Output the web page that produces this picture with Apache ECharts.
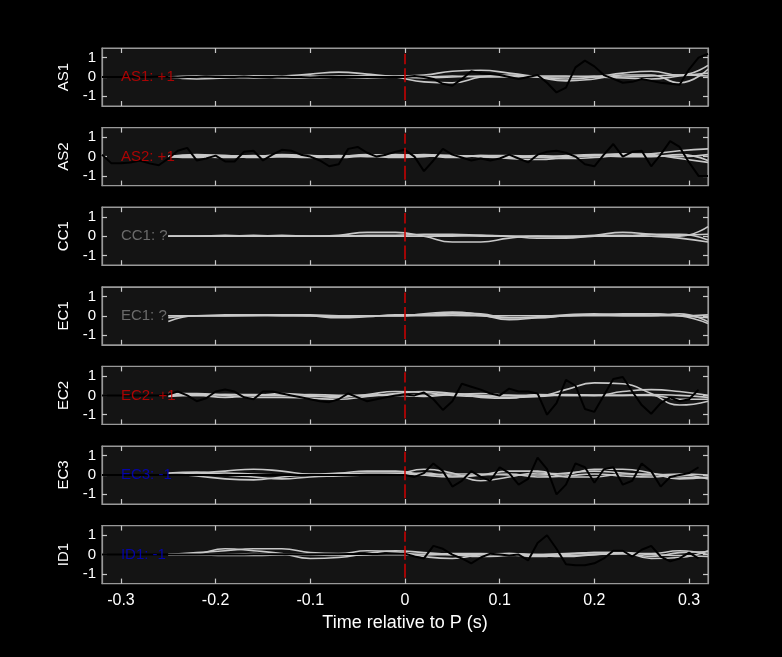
<!DOCTYPE html>
<html><head><meta charset="utf-8">
<script src="https://cdn.jsdelivr.net/npm/echarts@6/dist/echarts.min.js"></script>
<style>html,body{margin:0;background:#000}#c{width:782px;height:657px}</style>
</head><body><div id="c"></div>
<script>
const panelNames = ['AS1','AS2','CC1','EC1','EC2','EC3','ID1'];
const panelLabels = ['AS1: +1','AS2: +1','CC1: ?','EC1: ?','EC2: +1','EC3: -1','ID1: -1'];
const labelColors = ['#d00000','#d00000','#808080','#808080','#d00000','#0000d0','#0000d0'];
const xTicks = [-0.3,-0.2,-0.1,0,0.1,0.2,0.3];
const yTicks = [-1,0,1];
const refLineY = [-1.2, 1.2];
// black trace sample times: -0.32 .. 0.32 step 0.01
const blackT = [];
for (let i = -32; i <= 32; i++) blackT.push(i/100);
const as1Black = [0,0,0,0.02,0,0,0.03,0,-0.02,0,0,0.02,0,0,0,0.02,0,0,0,0.02,0,0,-0.02,0,0,0,0,0,0,0,0,0,
  0,0.05,0,-0.1,-0.35,-0.45,-0.1,0.3,0.2,0.15,0.1,0,-0.1,0,0.1,-0.3,-0.8,-0.55,0.5,0.85,0.55,0.1,-0.1,-0.3,-0.25,-0.1,-0.2,-0.3,-0.35,-0.4,0.4,1.0,1.2];
const as2Black = [0.1,-0.35,-0.35,-0.3,-0.2,-0.35,-0.45,-0.1,0.3,0.45,-0.2,-0.1,0.05,-0.25,-0.25,0.25,0.3,-0.2,0.1,0.35,0.3,0.1,0,-0.2,-0.5,-0.4,0.4,0.5,0.2,0,0.1,0.25,
  0.35,0,-0.75,-0.2,0.4,0.1,-0.05,-0.2,-0.1,-0.2,-0.1,0.1,-0.1,-0.3,0.1,0.25,0.3,0.2,0,-0.4,-0.5,0.1,0.65,0,0.25,0.3,-0.5,0.1,0.8,0.5,-0.3,-1.0,-1.0];
const ec2Black = [0,0,0,0,0,0,0,0.05,0.2,0,-0.3,-0.15,0.2,0.3,0.2,-0.1,-0.2,0.2,0.2,0.1,0,-0.1,-0.2,-0.3,-0.35,-0.2,0.1,-0.1,-0.3,-0.2,-0.1,0,
  0.05,0,0.15,-0.2,-0.75,-0.3,0.6,0.45,0.3,0.1,0,0.35,0.2,0.2,0.1,-1.0,-0.4,0.8,0.5,-0.7,-0.85,0,0.85,0.95,0.2,-0.5,-0.95,-0.4,-0.1,-0.3,-0.2,0.3,null];
const ec3Black = [0,0,0,0,0,0,0,0,0,0,0,0,0,0,0,0,0,0,0,0,0,0,0,0,0,0,0,0,0,0,0,0,
  0,-0.1,0.1,0.6,0.2,-0.6,-0.3,0.2,-0.1,-0.3,0.4,0.1,-0.5,-0.2,0.9,0.3,-1.0,-0.5,0.6,0.4,-0.4,0.3,0.4,-0.5,-0.3,0.6,0.2,-0.6,-0.1,0,0.1,0.4,null];
const id1Black = [0,0,0,0,0,0,0,0,0,0,0,0,0,0,0,0,0.02,0.02,0.02,0.02,0.02,0.02,0.02,0.02,0.02,0.02,0.03,0.03,0.03,0.03,0.04,0.04,
  0.05,-0.1,-0.2,0.45,0.3,0,-0.2,-0.45,-0.15,0.05,0,-0.05,0,-0.3,0.6,1.0,0.3,-0.5,-0.55,-0.55,-0.45,-0.2,0.2,0.2,-0.1,0.25,0.45,-0.1,-0.35,-0.2,0.1,-0.2,null];
const blackData = [as1Black, as2Black, null, null, ec2Black, ec3Black, id1Black];
// grey traces sample times: -0.25 .. 0.32 step 0.03
const greyT = [];
for (let i = 0; i < 20; i++) greyT.push(-0.25 + i*0.03);
const as1Grey = [
 [0,-0.1,-0.05,0,0.05,0.15,0.25,0.15,0,-0.25,-0.3,0,0.1,0,-0.1,0,0.2,0.3,0.1,0.6],
 [0,0,0.05,0.05,-0.05,-0.05,0,0.05,0.05,0.1,0.3,0.35,0.2,0,-0.2,-0.1,0.1,0.1,-0.3,0.4],
 [0,0.05,0,-0.05,0,0.05,0,-0.05,0,0,0.05,0,0,0.05,0.05,0,-0.05,-0.1,0.05,0.2],
 [0,0,0,0.05,0.05,0,0.05,0.05,0,-0.05,0,0.05,0.05,0,0,0.05,0,0.05,0.1,0.05]];
const as2Grey = [
 [0,0.1,0.05,0,0.1,0.05,-0.05,0.05,0.1,0.05,0,0.05,0,-0.05,0.05,0.1,0.1,0.15,0.3,0.4],
 [0,-0.05,0,0.05,0,-0.05,0,0.1,0.05,0.1,0.05,0,-0.1,-0.15,-0.05,0.05,0,0,0.1,-0.2],
 [0,0,-0.05,0,0.05,0,0.05,0,0,0.05,-0.05,0.05,0.05,0,-0.1,-0.05,0.05,0.05,0,0.1],
 [0,0.05,0.05,-0.05,0,0.05,0,0.05,-0.05,0,0.05,0,-0.05,0.05,0,0.05,0.15,0.1,-0.1,-0.3]];
const cc1Grey = [
 [0,0,0,0.05,0,0,0.05,0.2,0.2,0,-0.3,-0.3,-0.1,0,0,0.05,0.2,0.1,0,0.5],
 [0,0,0,0,0.05,0,0,0.05,0.05,0.1,0.1,0.05,0,-0.1,-0.1,0,0,0.1,0.1,-0.2],
 [0,0,0,0,0,0,0,0,0,0,0,0.05,0,0,-0.05,0,0.05,0,-0.1,-0.3],
 [0,0,0.05,0,0,0,0,0,0,0,0.05,0,0,0,0,0,0,0,0.05,0.1]];
const ec1Grey = [
 [-0.3,0,0,0.05,0,0,-0.05,0,0,0.1,0.2,0.05,-0.2,-0.1,0,0.05,0.1,0.1,0,-0.4],
 [0,0,0.05,0.05,0.05,0,-0.1,-0.05,0.05,0.05,0.1,0,-0.1,-0.05,0.05,0.1,0.05,0.1,0,-0.1],
 [-0.1,0,0,0,0.05,0.05,0,0,0,0.05,0.15,0.1,-0.1,-0.1,0,0.05,0,0,0.1,-0.3],
 [0,0,0,0.02,0,0,0,0,0,0,0.02,0,0,0,0,0,0,0,0,0.05]];
const ec2Grey = [
 [0.1,0.1,0,-0.1,-0.1,-0.15,-0.2,-0.05,0.1,0.2,0.1,0,-0.1,-0.05,0.3,0.65,0.6,0.1,-0.5,-0.3],
 [0,0.05,0.05,0,0.1,0,-0.1,0.05,0.2,0.15,0,-0.05,0,0,0,0,0.2,0.3,0.2,0],
 [-0.05,0,-0.1,0,0,0.05,0,0,0.05,0,0.1,-0.1,-0.15,0.05,0,0,0,0.05,0,-0.1],
 [0.05,0,0.05,0.05,0,-0.05,-0.05,0,0,-0.05,0.05,0.1,0,-0.05,0.05,0,0,0,-0.2,-0.2]];
const ec3Grey = [
 [0.1,0.15,0,-0.1,-0.2,-0.1,-0.05,0,0.05,0.3,0.1,-0.3,-0.1,0.1,0.05,0.3,0.3,0.1,-0.2,-0.1],
 [0,0.1,0.2,0.3,0.2,0.05,0.1,0.2,0.2,0,-0.1,0,0.2,0.2,-0.1,-0.1,0.05,0.05,-0.1,-0.15],
 [0.05,-0.05,-0.2,-0.25,-0.1,0,0.05,0,0,0.1,-0.05,0,0.05,-0.1,-0.05,0.05,-0.05,-0.1,0,-0.2],
 [0,0.05,0.1,0.05,0,0,0.05,0.1,0.1,0,0.05,0.05,0,0,0.1,0.2,0.1,0,0.05,0]];
const id1Grey = [
 [0,0.05,0.3,0.2,0.05,-0.2,-0.15,0.05,0.2,0.1,0,-0.1,-0.05,0,0.05,0.1,0.1,-0.2,-0.15,0.2],
 [0,0.1,0.2,0.3,0.3,0.1,0.05,0.2,0.15,-0.1,-0.2,0,0.05,-0.05,-0.1,0,0.05,-0.1,0.1,0.15],
 [0,0,-0.05,-0.05,0,0.05,0,0,0,0,0.05,0.05,0,-0.1,0,0.1,0.1,0,-0.05,-0.1],
 [0,0,0,0.05,0,0,-0.05,0,0.05,0,0,0,0.05,0,-0.05,0,0.05,0.05,0.2,0]];
const greyData = [as1Grey, as2Grey, cc1Grey, ec1Grey, ec2Grey, ec3Grey, id1Grey];

const FONT = 'Liberation Sans';
const grids = [], xAxes = [], yAxes = [], series = [];
const top0 = 48, step = 79.6, h = 58;
const tickStyle = {show: true, inside: true, length: 5, lineStyle: {color: '#c8c8c8', width: 1.2}};
panelNames.forEach((name, i) => {
  const last = i === panelNames.length - 1;
  grids.push({left: 102, width: 606, top: top0 + i*step, height: h, show: true,
    backgroundColor: '#141414', borderColor: '#999', borderWidth: 1.2});
  const base = {gridIndex: i, type: 'value', splitLine: {show: false},
    axisLine: {show: true, onZero: false, lineStyle: {color: '#999', width: 1.2}}};
  xAxes.push(Object.assign({}, base, {position: 'bottom', min: -0.32, max: 0.32,
    axisTick: Object.assign({customValues: xTicks}, tickStyle),
    axisLabel: {show: last, color: '#fff', fontSize: 16, fontFamily: FONT, customValues: xTicks, margin: 9,
      formatter: v => String(Math.round(v*10)/10)},
    name: last ? 'Time relative to P (s)' : '', nameLocation: 'middle', nameGap: 30,
    nameTextStyle: {color: '#fff', fontSize: 18, fontFamily: FONT}}));
  xAxes.push(Object.assign({}, base, {position: 'top', min: -0.32, max: 0.32,
    axisTick: Object.assign({customValues: xTicks}, tickStyle),
    axisLabel: {show: false, customValues: xTicks}}));
  yAxes.push(Object.assign({}, base, {position: 'left', min: -1.5, max: 1.5,
    axisTick: Object.assign({customValues: yTicks}, tickStyle),
    axisLabel: {color: '#fff', fontSize: 15, fontFamily: FONT, customValues: yTicks, margin: 6},
    name: name, nameLocation: 'middle', nameGap: 26, nameRotate: 90,
    nameTextStyle: {color: '#fff', fontSize: 15, fontFamily: FONT}}));
  yAxes.push(Object.assign({}, base, {position: 'right', min: -1.5, max: 1.5,
    axisTick: Object.assign({customValues: yTicks}, tickStyle),
    axisLabel: {show: false, customValues: yTicks}}));
  const xi = i*2, yi = i*2;
  greyData[i].forEach(arr => series.push({type: 'line', xAxisIndex: xi, yAxisIndex: yi,
    data: greyT.map((t, k) => [t, arr[k]]), smooth: 0.5, showSymbol: false, silent: true,
    lineStyle: {color: '#c8c8c8', width: 1.6}, z: 2}));
  if (blackData[i]) series.push({type: 'line', xAxisIndex: xi, yAxisIndex: yi,
    data: blackT.map((t, k) => [t, blackData[i][k]]), showSymbol: false, silent: true,
    lineStyle: {color: '#000', width: 2}, z: 3});
  series.push({type: 'line', xAxisIndex: xi, yAxisIndex: yi, data: refLineY.map(v => [0, v]),
    showSymbol: false, silent: true, lineStyle: {color: '#d00000', width: 1.5, type: [14, 4]}, z: 4});
  series.push({type: 'scatter', xAxisIndex: xi, yAxisIndex: yi, data: [[-0.3, 0]], symbolSize: 0, z: 5,
    label: {show: true, position: 'right', distance: 0, formatter: panelLabels[i],
      color: labelColors[i], fontSize: 15, fontFamily: FONT}});
});
const chart = echarts.init(document.getElementById('c'));
chart.setOption({backgroundColor: '#000', animation: false, grid: grids, xAxis: xAxes, yAxis: yAxes, series});
</script></body></html>
